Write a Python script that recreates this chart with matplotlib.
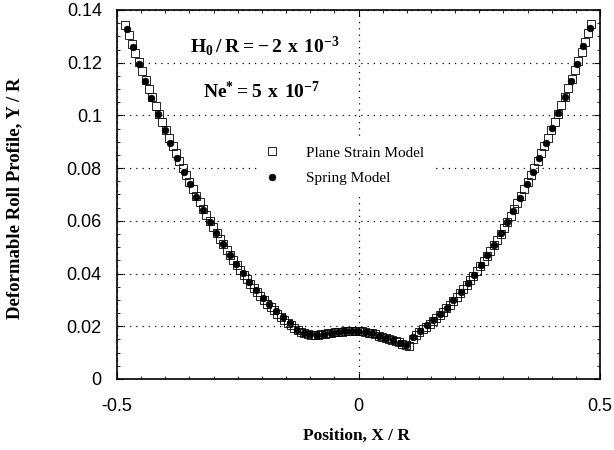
import matplotlib
matplotlib.use("Agg")
import matplotlib.pyplot as plt
from matplotlib.ticker import MultipleLocator

plt.rcParams['mathtext.fontset'] = 'custom'
plt.rcParams['mathtext.rm'] = 'Liberation Serif'
plt.rcParams['mathtext.bf'] = 'Liberation Serif:bold'

##################################
##             DATA             ##
##################################

# Plane strain model (open squares)
plane_x = [
    -0.483, -0.476, -0.469, -0.462, -0.455, -0.448, -0.441, -0.434, -0.427, -0.420,
    -0.413, -0.406, -0.399, -0.392, -0.385, -0.378, -0.371, -0.364, -0.357, -0.350,
    -0.343, -0.336, -0.329, -0.322, -0.315, -0.308, -0.301, -0.294, -0.287, -0.280,
    -0.273, -0.266, -0.259, -0.252, -0.245, -0.238, -0.231, -0.224, -0.217, -0.210,
    -0.203, -0.196, -0.189, -0.182, -0.175, -0.168, -0.161, -0.154, -0.147, -0.140,
    -0.133, -0.126, -0.119, -0.112, -0.105, -0.098, -0.091, -0.084, -0.077, -0.070,
    -0.063, -0.056, -0.049, -0.042, -0.035, -0.028, -0.021, -0.014, -0.007, 0.000,
    0.007, 0.014, 0.021, 0.028, 0.035, 0.042, 0.049, 0.056, 0.063, 0.070,
    0.077, 0.084, 0.091, 0.098, 0.105, 0.112, 0.119, 0.126, 0.133, 0.140,
    0.147, 0.154, 0.161, 0.168, 0.175, 0.182, 0.189, 0.196, 0.203, 0.210,
    0.217, 0.224, 0.231, 0.238, 0.245, 0.252, 0.259, 0.266, 0.273, 0.280,
    0.287, 0.294, 0.301, 0.308, 0.315, 0.322, 0.329, 0.336, 0.343, 0.350,
    0.357, 0.364, 0.371, 0.378, 0.385, 0.392, 0.399, 0.406, 0.413, 0.420,
    0.427, 0.434, 0.441, 0.448, 0.455, 0.462, 0.469, 0.476, 0.482,
]
plane_y = [
    0.1342, 0.1306, 0.1271, 0.1235, 0.1201, 0.1167, 0.1133, 0.1100, 0.1068, 0.1036,
    0.1005, 0.0974, 0.0944, 0.0914, 0.0885, 0.0856, 0.0828, 0.0801, 0.0774, 0.0747,
    0.0721, 0.0696, 0.0671, 0.0646, 0.0623, 0.0599, 0.0577, 0.0555, 0.0533, 0.0512,
    0.0491, 0.0471, 0.0452, 0.0433, 0.0414, 0.0396, 0.0379, 0.0362, 0.0346, 0.0330,
    0.0315, 0.0300, 0.0286, 0.0273, 0.0260, 0.0247, 0.0235, 0.0224, 0.0213, 0.0203,
    0.0193, 0.0184, 0.0178, 0.0173, 0.0170, 0.0168, 0.0168, 0.0168, 0.0170, 0.0172,
    0.0174, 0.0176, 0.0178, 0.0179, 0.0180, 0.0181, 0.0182, 0.0182, 0.0182, 0.0182,
    0.0181, 0.0179, 0.0176, 0.0173, 0.0169, 0.0165, 0.0160, 0.0156, 0.0152, 0.0148,
    0.0144, 0.0139, 0.0134, 0.0129, 0.0125, 0.0153, 0.0168, 0.0180, 0.0189, 0.0199,
    0.0209, 0.0220, 0.0231, 0.0243, 0.0255, 0.0268, 0.0282, 0.0296, 0.0311, 0.0326,
    0.0341, 0.0358, 0.0375, 0.0392, 0.0410, 0.0428, 0.0447, 0.0467, 0.0487, 0.0508,
    0.0529, 0.0551, 0.0573, 0.0596, 0.0620, 0.0644, 0.0669, 0.0694, 0.0719, 0.0746,
    0.0773, 0.0800, 0.0828, 0.0856, 0.0885, 0.0915, 0.0945, 0.0976, 0.1007, 0.1039,
    0.1071, 0.1104, 0.1138, 0.1172, 0.1207, 0.1242, 0.1277, 0.1314, 0.1345,
]

# Spring model (filled circles)
spring_x = [
    -0.4800, -0.4675, -0.4545, -0.4414, -0.4290, -0.4157, -0.4012, -0.3896, -0.3752, -0.3619,
    -0.3489, -0.3358, -0.3219, -0.3075, -0.2950, -0.2816, -0.2660, -0.2536, -0.2391, -0.2260,
    -0.2128, -0.1984, -0.1846, -0.1702, -0.1570, -0.1418, -0.1280, -0.1138, -0.0996, -0.0854,
    -0.0712, -0.0570, -0.0428, -0.0286, -0.0144, -0.0002, 0.0140, 0.0282, 0.0424, 0.0566,
    0.0708, 0.0850, 0.0992, 0.1135, 0.1273, 0.1412, 0.1549, 0.1687, 0.1826, 0.1963,
    0.2116, 0.2261, 0.2400, 0.2535, 0.2667, 0.2799, 0.2944, 0.3075, 0.3199, 0.3344,
    0.3482, 0.3610, 0.3737, 0.3876, 0.4006, 0.4137, 0.4275, 0.4400, 0.4518, 0.4648,
    0.4793,
]
spring_y = [
    0.1327, 0.1261, 0.1195, 0.1131, 0.1067, 0.1005, 0.0944, 0.0894, 0.0837, 0.0787,
    0.0738, 0.0690, 0.0642, 0.0595, 0.0554, 0.0513, 0.0470, 0.0436, 0.0401, 0.0369,
    0.0339, 0.0309, 0.0283, 0.0258, 0.0236, 0.0211, 0.0187, 0.0175, 0.0169, 0.0168,
    0.0171, 0.0175, 0.0179, 0.0181, 0.0182, 0.0182, 0.0179, 0.0173, 0.0164, 0.0156,
    0.0147, 0.0138, 0.0128, 0.0158, 0.0182, 0.0203, 0.0224, 0.0246, 0.0271, 0.0300,
    0.0330, 0.0363, 0.0396, 0.0432, 0.0469, 0.0508, 0.0552, 0.0595, 0.0638, 0.0688,
    0.0738, 0.0786, 0.0840, 0.0896, 0.0951, 0.1010, 0.1071, 0.1132, 0.1195, 0.1262,
    0.1331,
]

x_ticks = [-0.5, 0, 0.5]
y_ticks = [0, 0.02, 0.04, 0.06, 0.08, 0.1, 0.12, 0.14]
x_ticklabels = ["-0.5", "0", "0.5"]
y_ticklabels = ["0", "0.02", "0.04", "0.06", "0.08", "0.1", "0.12", "0.14"]

##################################
##             PLOT             ##
##################################

fig = plt.figure(figsize=(6.14, 4.5), dpi=100)
ax = fig.add_axes([0.1906, 0.1578, 0.7866, 0.82])

ax.plot(plane_x, plane_y, linestyle='none', marker='s', markersize=5.8,
        markerfacecolor='none', markeredgecolor='black', markeredgewidth=0.6,
        label='Plane Strain Model', zorder=3)
ax.plot(spring_x, spring_y, linestyle='none', marker='o', markersize=4.8,
        markerfacecolor='black', markeredgecolor='black', markeredgewidth=0.5,
        label='Spring Model', zorder=4)

ax.set_xlim(-0.5, 0.5)
ax.set_ylim(0, 0.14)
ax.set_xticks(x_ticks)
ax.set_xticklabels(x_ticklabels)
ax.set_yticks(y_ticks)
ax.set_yticklabels(y_ticklabels)
ax.xaxis.set_minor_locator(MultipleLocator(0.05))
ax.yaxis.set_minor_locator(MultipleLocator(0.005))

ax.tick_params(which='both', direction='in', top=True, right=True)
ax.tick_params(which='major', length=4.5, width=0.8)
ax.tick_params(which='minor', length=2.5, width=0.6)
ax.tick_params(axis='y', which='major', pad=11)
ax.tick_params(axis='x', which='major', pad=14)
for lab in ax.get_xticklabels() + ax.get_yticklabels():
    lab.set_fontfamily('Liberation Sans')
    lab.set_fontsize(13)

for sp in ax.spines.values():
    sp.set_linewidth(1.2)

ax.grid(True, which='major', color='black', linestyle=(0, (1, 4)), linewidth=0.9)
ax.set_axisbelow(True)

ax.set_xlabel('Position, X / R', family='Liberation Serif', fontweight='bold', fontsize=12.5)
ax.set_ylabel('Deformable Roll Profile, Y / R', family='Liberation Serif', fontweight='bold', fontsize=13.5)
ax.xaxis.set_label_coords(0.495, -0.133)
ax.yaxis.set_label_coords(-0.195, 0.49)

ax.text(0.152, 0.885, r'$\mathbf{H_0\,/\,R = -\,2\ x\ 10^{-3}}$', transform=ax.transAxes,
        fontsize=14, va='baseline')
ax.text(0.178, 0.762, r'$\mathbf{Ne^{*} = 5\ x\ 10^{-7}}$', transform=ax.transAxes,
        fontsize=14, va='baseline')

leg = ax.legend(loc='upper left', bbox_to_anchor=(0.29, 0.652), frameon=True,
                prop={'family': 'Liberation Serif', 'size': 11},
                handletextpad=1.7, labelspacing=0.75, borderpad=0.5,
                handlelength=1.0, borderaxespad=0)
leg.get_frame().set_facecolor('white')
leg.get_frame().set_edgecolor('none')
leg.get_frame().set_alpha(1.0)
leg.set_zorder(5)

plt.savefig('out.png', dpi=100)
plt.close()
